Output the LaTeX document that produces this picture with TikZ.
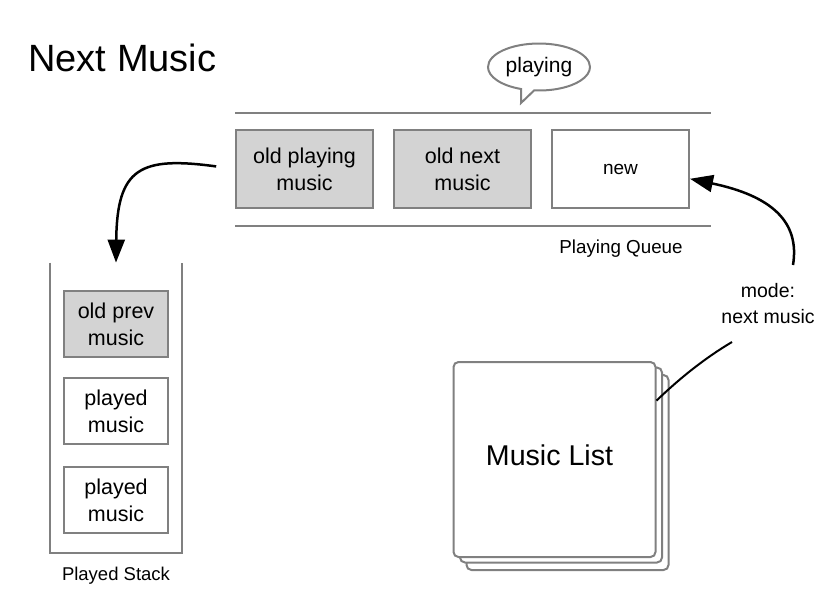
\documentclass[tikz,border=0pt]{standalone}
\usepackage{fontspec}
\setmainfont{Liberation Sans}
\usetikzlibrary{shapes.callouts,arrows.meta,calc}

\definecolor{edgegray}{RGB}{128,128,128}
\definecolor{fillgray}{RGB}{211,211,211}

\tikzset{every picture/.style={line width=0.75pt}}
\tikzset{
  qbox/.style={draw=edgegray, line width=2pt, minimum width=137pt, minimum height=78pt, inner sep=0pt, align=center, font=\fontsize{21.5}{27}\selectfont},
  sbox/.style={qbox, minimum width=104pt, minimum height=66pt},
  card/.style={draw=edgegray, fill=white, line width=2pt, rounded corners=5pt, minimum width=202pt, minimum height=195pt, inner sep=0pt},
  caption/.style={inner sep=0.75pt, align=center, font=\fontsize{18.8}{26}\selectfont},
  wall/.style={draw=edgegray, line width=2pt},
  link/.style={line width=2.5pt, -{Triangle[length=23pt,width=17pt]}},
}

\begin{document}
\begin{tikzpicture}[x=1pt,y=1pt,yscale=-1,xscale=1]
\useasboundingbox (0,0) rectangle (832,606);

% Text Node
\draw (28,58) node [anchor=west][inner sep=0pt] (title) {\fontsize{38}{44}\selectfont Next Music};

%Speech bubble
\node [ellipse callout, draw=edgegray, line width=2pt, fill=white, minimum width=102pt, minimum height=47pt, inner sep=0pt, callout absolute pointer={(521,103)}, font=\fontsize{21}{26}\selectfont] (bubble) at (539,67) {playing};

%Straight Lines (queue)
\coordinate (qtl) at (235,113);
\coordinate (qtr) at (711,113);
\coordinate (qbl) at (235,226);
\coordinate (qbr) at (711,226);
\draw [wall] (qtl) -- (qtr);
\draw [wall] (qbl) -- (qbr);

%Shape: Rectangle
\node [qbox, fill=fillgray] (oldplay) at (304.5,169) {old playing\\music};
%Shape: Rectangle
\node [qbox, fill=fillgray] (oldnext) at (462.5,169) {old next\\music};
%Shape: Rectangle
\node [qbox, font=\fontsize{19}{26}\selectfont] (new) at (620.5,169) {new};
% Text Node
\node [caption] (queue) at (621,249) {Playing Queue};

%Stack walls
\node [minimum width=132pt, minimum height=290pt, inner sep=0pt] (stack) at (116,408) {};
\draw [wall] (stack.north west) -- (stack.south west) -- (stack.south east) -- (stack.north east);

%Shape: Rectangle
\node [sbox, fill=fillgray] (oldprev) at (116,324) {old prev\\music};
%Shape: Rectangle
\node [sbox] (played1) at (116,411) {played\\music};
%Shape: Rectangle
\node [sbox] (played2) at (116,500) {played\\music};
% Text Node
\node [caption, font=\fontsize{18.5}{26}\selectfont] (stacklabel) at (116,576) {Played Stack};

%Music List cards
\node [card] (ml3) at (567.5,472.5) {};
\node [card] (ml2) at (561,465) {};
\node [card] (ml) at (554.5,459.5) {};
% Text Node
\node [inner sep=0pt, font=\fontsize{28.6}{34}\selectfont] (mltitle) at (549.5,455) {Music List};

% Text Node
\node [caption, font=\fontsize{19.5}{26}\selectfont] (mode) at (768,304) {mode:\\next music};
\coordinate (modebot) at (732,342);
\coordinate (modetop) at (793,265);

%Curve Lines
\draw [link, shorten <=19pt] (oldplay.west) .. controls (140,156) and (117,168) .. (stack.north);
\draw [line width=2pt] (ml.30) .. controls (680,378) and (705,358) .. (modebot);
\draw [link] (modetop) .. controls (800,222) and (772,196) .. (new.-8);

\end{tikzpicture}
\end{document}
